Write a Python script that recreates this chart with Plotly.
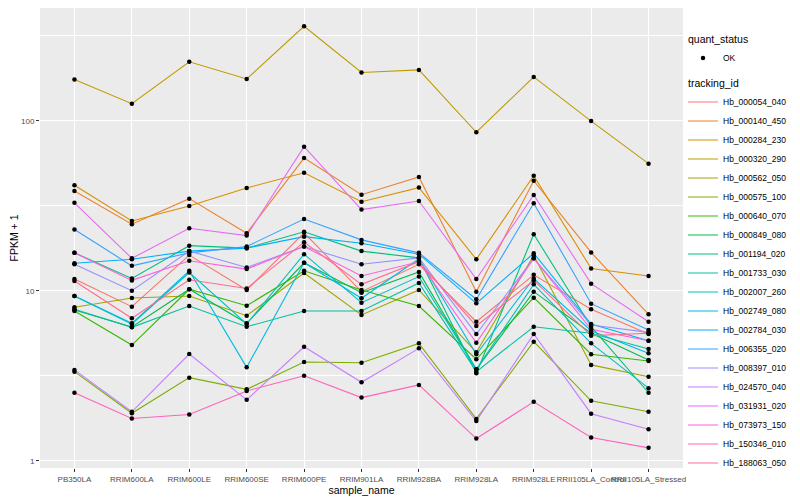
import plotly.graph_objects as go

samples = ["PB350LA", "RRIM600LA", "RRIM600LE", "RRIM600SE", "RRIM600PE", "RRIM901LA",
           "RRIM928BA", "RRIM928LA", "RRIM928LE", "RRII105LA_Control", "RRII105LA_Stressed"]

tracking_ids = ["Hb_000054_040", "Hb_000140_450", "Hb_000284_230", "Hb_000320_290", "Hb_000562_050",
                "Hb_000575_100", "Hb_000640_070", "Hb_000849_080", "Hb_001194_020", "Hb_001733_030",
                "Hb_002007_260", "Hb_002749_080", "Hb_002784_030", "Hb_006355_020", "Hb_008397_010",
                "Hb_024570_040", "Hb_031931_020", "Hb_073973_150", "Hb_150346_010", "Hb_188063_050"]

colors = ["#F8766D", "#EA8331", "#D89000", "#C09B00", "#A3A500", "#7CAE00", "#39B600", "#00BB4E",
          "#00BF7D", "#00C1A3", "#00BFC4", "#00BAE0", "#00B0F6", "#35A2FF", "#9590FF", "#C77CFF",
          "#E76BF3", "#FA62DB", "#FF62BC", "#FF6C91"]

# FPKM + 1 per sample, one list per tracking_id
Hb_000054_040 = [11.7, 8.05, 16.2, 10.1, 21.9, 9.87, 14.3, 6.57, 12.4, 7.77, 5.56]
Hb_000140_450 = [38.6, 24.6, 34.8, 21.8, 60.3, 36.7, 46.7, 9.87, 44.4, 16.8, 7.26]
Hb_000284_230 = [41.7, 25.7, 31.5, 40.2, 49.4, 33.4, 40.4, 15.3, 47.5, 13.5, 12.2]
Hb_000320_290 = [175, 126, 222, 176, 359, 192, 199, 85.5, 181, 99.5, 55.9]
Hb_000562_050 = [7.99, 9.06, 9.31, 7.13, 12.7, 7.20, 10.1, 4.34, 16.1, 3.66, 3.12]
Hb_000575_100 = [3.34, 1.90, 3.08, 2.63, 3.81, 3.77, 4.90, 1.76, 5.01, 2.25, 1.94]
Hb_000640_070 = [7.60, 4.79, 10.2, 8.16, 13.1, 10.1, 8.13, 3.95, 9.10, 4.23, 3.86]
Hb_000849_080 = [7.70, 6.12, 10.2, 6.43, 14.6, 9.73, 12.9, 3.45, 9.87, 5.62, 3.91]
Hb_001194_020 = [16.7, 11.8, 18.4, 17.8, 22.2, 17.1, 15.6, 3.27, 21.5, 6.14, 2.51]
Hb_001733_030 = [7.77, 6.09, 8.13, 6.14, 7.60, 7.60, 11.1, 3.34, 6.14, 5.62, 4.54]
Hb_002007_260 = [9.31, 6.37, 12.8, 6.37, 16.4, 8.50, 12.1, 3.45, 10.9, 4.90, 2.67]
Hb_002749_080 = [9.31, 6.43, 13.1, 3.54, 14.6, 9.02, 15.4, 4.23, 11.8, 5.82, 4.28]
Hb_002784_030 = [14.5, 15.3, 17.1, 17.8, 20.8, 19.0, 16.4, 8.43, 16.6, 6.37, 5.08]
Hb_006355_020 = [22.9, 14.0, 16.7, 18.2, 26.4, 19.9, 16.7, 8.90, 32.7, 8.39, 5.87]
Hb_008397_010 = [14.3, 10.0, 17.1, 13.7, 18.2, 14.3, 15.6, 5.56, 15.5, 6.28, 5.69]
Hb_024570_040 = [3.42, 1.94, 4.24, 2.28, 4.68, 2.89, 4.58, 1.71, 5.56, 1.89, 1.53]
Hb_031931_020 = [32.9, 15.5, 23.3, 21.1, 70.3, 30.0, 33.7, 11.7, 36.6, 11.0, 6.57]
Hb_073973_150 = [16.7, 11.5, 15.0, 13.4, 18.2, 12.2, 14.8, 4.94, 15.5, 5.93, 5.08]
Hb_150346_010 = [2.51, 1.77, 1.87, 2.57, 3.16, 2.35, 2.79, 1.35, 2.22, 1.37, 1.19]
Hb_188063_050 = [11.4, 6.88, 11.6, 10.3, 19.3, 10.9, 14.8, 6.20, 11.5, 5.44, 5.62]

series = [Hb_000054_040, Hb_000140_450, Hb_000284_230, Hb_000320_290, Hb_000562_050,
          Hb_000575_100, Hb_000640_070, Hb_000849_080, Hb_001194_020, Hb_001733_030,
          Hb_002007_260, Hb_002749_080, Hb_002784_030, Hb_006355_020, Hb_008397_010,
          Hb_024570_040, Hb_031931_020, Hb_073973_150, Hb_150346_010, Hb_188063_050]

FONT = "Liberation Sans"
fig = go.Figure()

for i, (tid, col, vals) in enumerate(zip(tracking_ids, colors, series)):
    fig.add_trace(go.Scatter(
        x=samples, y=vals, mode="lines", name=tid,
        line=dict(color=col, width=1.1),
        legendgroup="tracking", legendrank=100 + i,
        legendgrouptitle=dict(text="tracking_id", font=dict(size=10.5, color="#000000")) if i == 0 else None,
        hoverinfo="x+y+name",
    ))

all_x = [s for vals in series for s in samples]
all_y = [v for vals in series for v in vals]
fig.add_trace(go.Scatter(
    x=all_x, y=all_y, mode="markers", name="OK",
    marker=dict(color="#000000", size=4.5),
    legendgroup="quant", legendrank=1,
    legendgrouptitle=dict(text="quant_status", font=dict(size=10.5, color="#000000")),
))

fig.update_layout(
    width=800, height=500,
    margin=dict(l=32, r=125, t=0, b=40, autoexpand=False),
    paper_bgcolor="#FFFFFF", plot_bgcolor="#EBEBEB",
    font=dict(family=FONT, size=8.5, color="#000000"),
    showlegend=True,
    legend=dict(
        x=1.0, xanchor="left", y=0.964, yanchor="top",
        traceorder="grouped", tracegroupgap=6,
        font=dict(size=8.5, color="#000000"),
        bgcolor="rgba(0,0,0,0)", itemwidth=30,
    ),
    xaxis=dict(
        type="category", categoryorder="array", categoryarray=samples,
        range=[-0.6, 10.6], tickangle=0,
        showgrid=True, gridcolor="#FFFFFF", gridwidth=1.1,
        zeroline=False, showline=False,
        ticks="outside", ticklen=3, tickcolor="#333333", tickwidth=0.8,
        tickfont=dict(family=FONT, size=8, color="#4D4D4D"),
        title=dict(text="sample_name", font=dict(family=FONT, size=10.5, color="#000000"), standoff=2),
    ),
    yaxis=dict(
        type="log", range=[-0.043, 2.663],
        tickvals=[1, 10, 100], ticktext=["1", "10", "100"],
        showgrid=True, gridcolor="#FFFFFF", gridwidth=1.1,
        minor=dict(tickvals=[3.1623, 31.623, 316.23], showgrid=True, gridcolor="#FFFFFF", gridwidth=0.5, ticks=""),
        zeroline=False, showline=False,
        ticks="outside", ticklen=3, tickcolor="#333333", tickwidth=0.8,
        tickfont=dict(family=FONT, size=8, color="#4D4D4D"),
        title=dict(text="FPKM + 1", font=dict(family=FONT, size=10.5, color="#000000"), standoff=4),
    ),
)

fig.write_html("out.html")
